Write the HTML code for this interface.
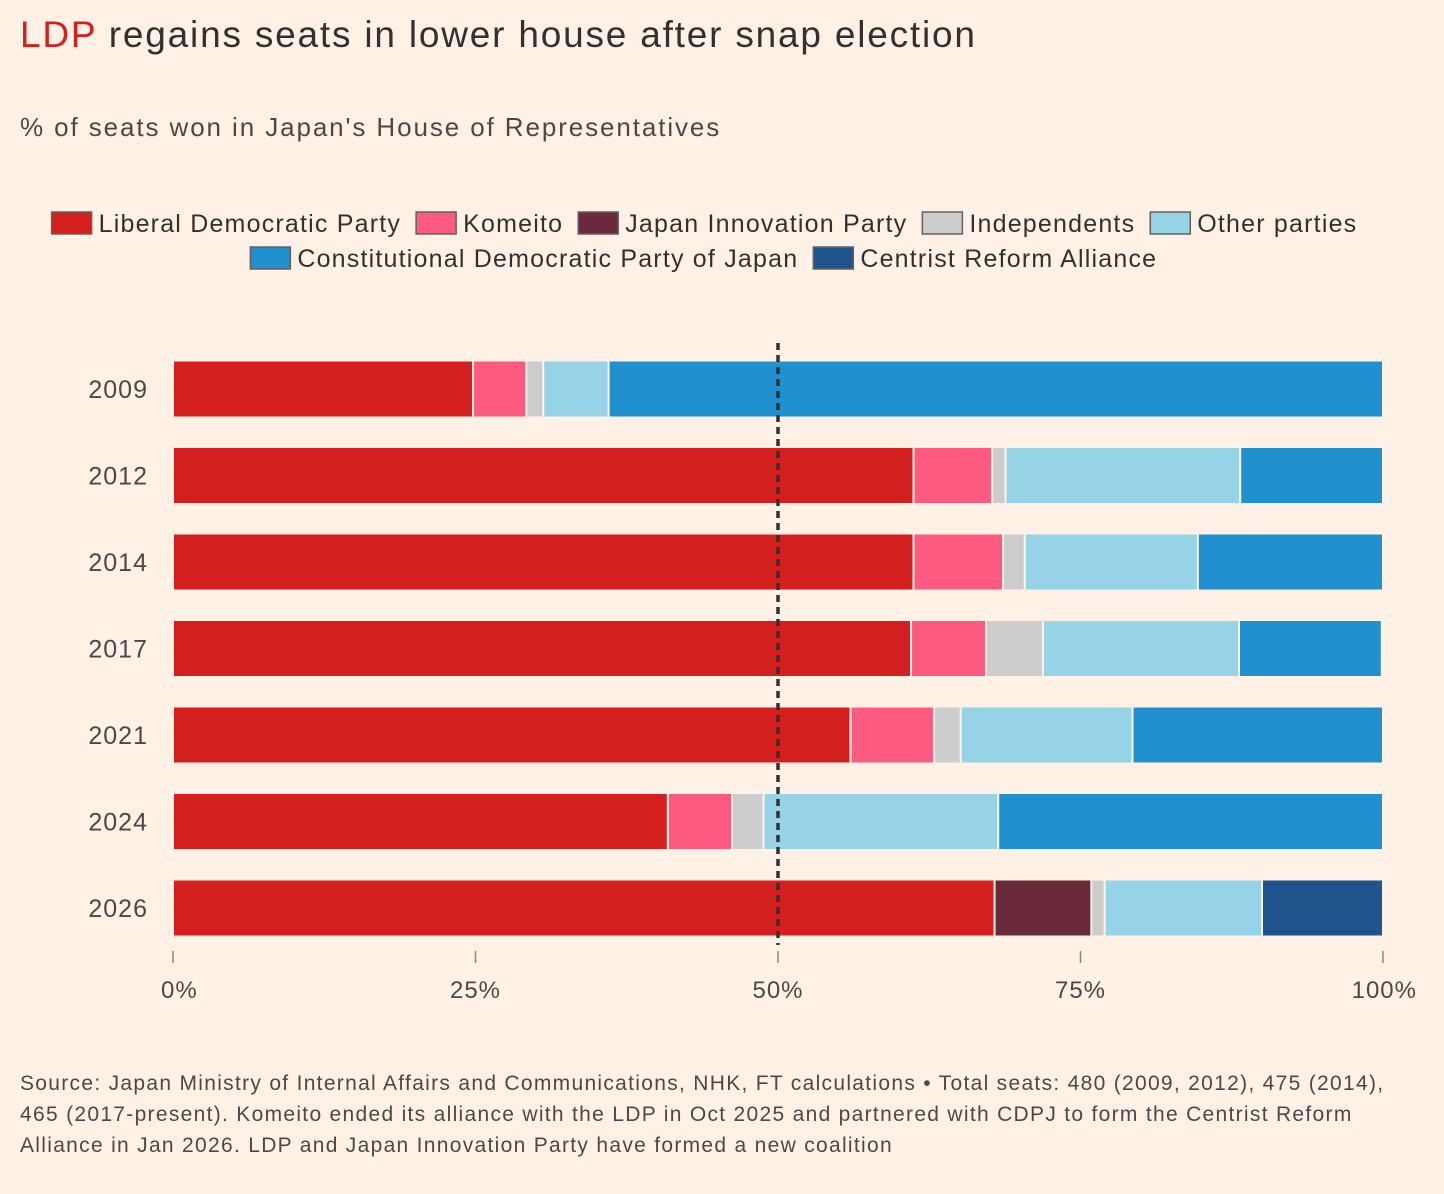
<!DOCTYPE html>
<html><head><meta charset="utf-8"><style>
body{margin:0;background:#fff1e5;font-family:"Liberation Sans",sans-serif;color:#33302e;}
#wrap{position:relative;width:1444px;height:1194px;overflow:hidden;}
.t{position:absolute;white-space:nowrap;}
</style></head><body>
<div id="wrap">
<div class="t" style="left:20px;top:14px;font-size:37px;letter-spacing:1.8px;"><span style="color:#d41f1f">LDP</span> regains seats in lower house after snap election</div>
<div class="t" style="left:20px;top:112px;font-size:26px;letter-spacing:1.9px;color:#4d4845;">% of seats won in Japan's House of Representatives</div>
<svg id="chart" width="1444" height="1194" style="position:absolute;left:0;top:0"></svg>
<div class="t" style="left:20px;top:1068px;font-size:21px;line-height:31px;letter-spacing:1.3px;color:#4d4845;white-space:normal;width:1390px;">Source: Japan Ministry of Internal Affairs and Communications, NHK, FT calculations • Total seats: 480 (2009, 2012), 475 (2014), 465 (2017-present). Komeito ended its alliance with the LDP in Oct 2025 and partnered with CDPJ to form the Centrist Reform Alliance in Jan 2026. LDP and Japan Innovation Party have formed a new coalition</div>
</div>
<script>
const years=["2009","2012","2014","2017","2021","2024","2026"];
const seriesNames=["Liberal Democratic Party","Komeito","Japan Innovation Party","Independents","Other parties","Constitutional Democratic Party of Japan","Centrist Reform Alliance"];
const seriesColors=["#d41f1f","#fc5a80","#6b2a3c","#cccccc","#96d3e6","#2190cf","#1f548c"];
const ldp=[24.8,61.2,61.2,61.0,56.0,40.9,67.9];
const komeito=[4.4,6.5,7.4,6.2,6.9,5.3,0];
const jip=[0,0,0,0,0,0,8.0];
const independents=[1.4,1.1,1.8,4.7,2.2,2.6,1.1];
const others=[5.4,19.4,14.3,16.2,14.2,19.4,13.0];
const cdp=[64.0,11.8,15.3,11.8,20.7,31.8,0];
const cra=[0,0,0,0,0,0,10.0];
const tickValues=[0,25,50,75,100];
const tickLabels=["0%","25%","50%","75%","100%"];
const series=[ldp,komeito,jip,independents,others,cdp,cra];
const svg=document.getElementById('chart');const NS="http://www.w3.org/2000/svg";
const x0=173,x1=1383;const xs=v=>x0+(x1-x0)*v/100;
const rowY=i=>389+i*86.5;const bh=57;
function mk(t,a){const e=document.createElementNS(NS,t);for(const k in a)e.setAttribute(k,a[k]);svg.appendChild(e);return e;}
const ls=1.2;
const ctx=document.createElement('canvas').getContext('2d');ctx.font='25px "Liberation Sans"';
const tw=s=>ctx.measureText(s).width+ls*s.length;
const leg=[[0,1,2,3,4],[5,6]];const legY=[223,258];
leg.forEach((row,r)=>{let w=0;row.forEach(i=>{w+=50+tw(seriesNames[i])+12});w-=12;let x=(1444-w)/2-16;
row.forEach(i=>{const rc=mk('rect',{x:x,y:legY[r]-11,width:40,height:22,fill:seriesColors[i],stroke:'#66605c','stroke-width':1.5});

const t=mk('text',{x:x+47,y:legY[r]+9,'font-size':25,fill:'#33302e','letter-spacing':ls});t.textContent=seriesNames[i];

x+=50+tw(seriesNames[i])+12;});});
years.forEach((yr,i)=>{let acc=0;const cy=rowY(i);
series.forEach((s,j)=>{const v=s[i];if(v<=0)return;const r=mk('rect',{x:xs(acc),y:cy-bh/2,width:xs(acc+v)-xs(acc),height:bh,fill:seriesColors[j],stroke:'#fff1e5','stroke-width':2});
acc+=v;});
const t=mk('text',{x:148,y:cy+9,'font-size':25,fill:'#4d4845','text-anchor':'end','letter-spacing':1});t.textContent=yr;
});
const dl=mk('line',{x1:xs(50),x2:xs(50),y1:343,y2:945,stroke:'#33302e','stroke-width':3.5,'stroke-dasharray':'7,5'});

tickValues.forEach((v,i)=>{const l=mk('line',{x1:xs(v),x2:xs(v),y1:951,y2:963,stroke:'#8a8580','stroke-width':1.5});

const t=mk('text',{x:xs(v),y:998,'font-size':24,fill:'#4d4845','text-anchor':i==4?'end':(i==0?'start':'middle'),'letter-spacing':1});
if(i==0)t.setAttribute('x',xs(v)-12);if(i==4)t.setAttribute('x',xs(v)+34);
t.textContent=tickLabels[i];});
</script>
</body></html>
